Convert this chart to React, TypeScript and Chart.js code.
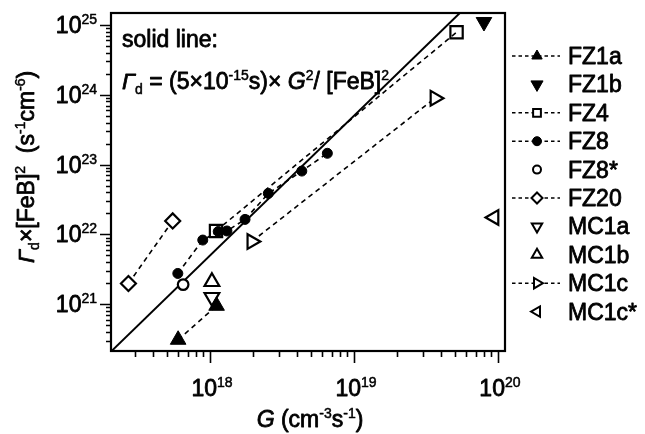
import React, { useEffect, useRef } from "react";
import { Chart, registerables } from "chart.js";

Chart.register(...registerables);

const FAMILY = '"Liberation Sans", Arial, Helvetica, sans-serif';
const BASE = 23;
const SMALL = 14;

// axis ranges (G in cm^-3 s^-1, Γd×[FeB]^2 in s^-1 cm^-6)
const gRange = [2.05e17, 1.12e20];
const rRange = [2.14e20, 1.48e25];
const xDecades = [17, 18, 19, 20];
const yDecades = [20, 21, 22, 23, 24, 25];

// solid line: Γd = (5×10^-15 s) × G^2 / [FeB]^2
const lineCoef = 5e-15;
const lineG = [1e17, 2e20];

// series values
const fz1aG = [6.0e17, 1.11e18];
const fz1aR = [3.1e20, 9.5e20];
const fz1bG = [8.0e19];
const fz1bR = [1.1e25];
const fz4G = [1.1e18, 5.16e19];
const fz4R = [1.12e22, 7.85e24];
const fz8G = [5.97e17, 8.9e17, 1.14e18, 1.31e18, 1.75e18, 2.54e18, 4.34e18, 6.53e18];
const fz8R = [2.76e21, 8.3e21, 1.1e22, 1.12e22, 1.64e22, 3.86e22, 8.07e22, 1.45e23];
const fz8sG = [6.5e17];
const fz8sR = [1.91e21];
const fz20G = [2.71e17, 5.5e17];
const fz20R = [1.98e21, 1.56e22];
const mc1aG = [1.03e18];
const mc1aR = [1.26e21];
const mc1bG = [1.03e18];
const mc1bR = [2.1e21];
const mc1cG = [1.95e18, 3.65e19];
const mc1cR = [7.9e21, 8.9e23];
const mc1csG = [9.4e19];
const mc1csR = [1.75e22];

const series = [
  { label: "FZ1a", g: fz1aG, r: fz1aR },
  { label: "FZ1b", g: fz1bG, r: fz1bR },
  { label: "FZ4", g: fz4G, r: fz4R },
  { label: "FZ8", g: fz8G, r: fz8R },
  { label: "FZ8*", g: fz8sG, r: fz8sR },
  { label: "FZ20", g: fz20G, r: fz20R },
  { label: "MC1a", g: mc1aG, r: mc1aR },
  { label: "MC1b", g: mc1bG, r: mc1bR },
  { label: "MC1c", g: mc1cG, r: mc1cR },
  { label: "MC1c*", g: mc1csG, r: mc1csR },
];

type Sty = { ps: string; rot: number; fill: string; line: boolean; rad: number; lr: number };
const styles: Record<string, Sty> = {
  "FZ1a": { ps: "triangle", rot: 0, fill: "#000", line: true, rad: 9, lr: 6 },
  "FZ1b": { ps: "triangle", rot: 180, fill: "#000", line: false, rad: 9, lr: 7 },
  "FZ4": { ps: "rect", rot: 0, fill: "rgba(0,0,0,0)", line: true, rad: 8.7, lr: 5.5 },
  "FZ8": { ps: "circle", rot: 0, fill: "#000", line: true, rad: 5, lr: 4.5 },
  "FZ8*": { ps: "circle", rot: 0, fill: "#fff", line: false, rad: 5.3, lr: 4 },
  "FZ20": { ps: "rectRot", rot: 0, fill: "#fff", line: true, rad: 7.5, lr: 5.5 },
  "MC1a": { ps: "triangle", rot: 180, fill: "#fff", line: false, rad: 8.5, lr: 6 },
  "MC1b": { ps: "triangle", rot: 0, fill: "#fff", line: false, rad: 8.5, lr: 6 },
  "MC1c": { ps: "triangle", rot: 90, fill: "#fff", line: true, rad: 8.5, lr: 6 },
  "MC1c*": { ps: "triangle", rot: 270, fill: "#fff", line: false, rad: 8.5, lr: 6 },
};

type Part = { t: string; it?: boolean; sup?: boolean; sub?: boolean };

function setFont(ctx: CanvasRenderingContext2D, p: Part) {
  const size = p.sup || p.sub ? SMALL : BASE;
  ctx.font = `${p.it ? "italic " : ""}${size}px ${FAMILY}`;
}
function richWidth(ctx: CanvasRenderingContext2D, parts: Part[]) {
  let w = 0;
  for (const p of parts) {
    setFont(ctx, p);
    w += ctx.measureText(p.t).width;
  }
  return w;
}
function drawRich(ctx: CanvasRenderingContext2D, parts: Part[], x: number, y: number) {
  let cx = x;
  ctx.save();
  ctx.textAlign = "left";
  ctx.textBaseline = "alphabetic";
  ctx.setLineDash([]);
  ctx.fillStyle = "#000";
  ctx.strokeStyle = "#000";
  ctx.lineJoin = "round";
  for (const p of parts) {
    setFont(ctx, p);
    const dy = p.sup ? -9 : p.sub ? 5 : 0;
    ctx.lineWidth = p.sup || p.sub ? 0.5 : 0.8;
    ctx.fillText(p.t, cx, y + dy);
    ctx.strokeText(p.t, cx, y + dy);
    cx += ctx.measureText(p.t).width;
  }
  ctx.restore();
}

function drawPoint(ctx: CanvasRenderingContext2D, ps: string, r: number, rotDeg: number, x: number, y: number) {
  let rad = (rotDeg * Math.PI) / 180;
  ctx.beginPath();
  if (ps === "circle") {
    ctx.arc(x, y, r, 0, Math.PI * 2);
  } else if (ps === "triangle") {
    ctx.moveTo(x + Math.sin(rad) * r, y - Math.cos(rad) * r);
    rad += (2 * Math.PI) / 3;
    ctx.lineTo(x + Math.sin(rad) * r, y - Math.cos(rad) * r);
    rad += (2 * Math.PI) / 3;
    ctx.lineTo(x + Math.sin(rad) * r, y - Math.cos(rad) * r);
    ctx.closePath();
  } else if (ps === "rect") {
    const s = Math.SQRT1_2 * r;
    ctx.rect(x - s, y - s, 2 * s, 2 * s);
  } else if (ps === "rectRot") {
    ctx.moveTo(x, y - r);
    ctx.lineTo(x + r, y);
    ctx.lineTo(x, y + r);
    ctx.lineTo(x - r, y);
    ctx.closePath();
  }
  ctx.fill();
  ctx.stroke();
}

const decor = {
  id: "decor",
  afterDraw(chart: any) {
    const { ctx, chartArea: a, scales } = chart;
    const xs = scales.x;
    const ys = scales.y;
    ctx.save();
    ctx.fillStyle = "#000";
    ctx.strokeStyle = "#000";
    ctx.setLineDash([]);

    // frame
    ctx.lineWidth = 2.2;
    ctx.strokeRect(a.left, a.top, a.right - a.left, a.bottom - a.top);

    // ticks
    ctx.lineWidth = 1.6;
    ctx.beginPath();
    for (const e of xDecades) {
      for (let m = 1; m <= 9; m++) {
        const v = m * Math.pow(10, e);
        if (v < xs.min || v > xs.max) continue;
        const px = Math.round(xs.getPixelForValue(v)) + 0.5;
        const len = m === 1 ? 12 : 6;
        ctx.moveTo(px, a.bottom);
        ctx.lineTo(px, a.bottom + len);
      }
    }
    for (const e of yDecades) {
      for (let m = 1; m <= 9; m++) {
        const v = m * Math.pow(10, e);
        if (v < ys.min || v > ys.max) continue;
        const py = Math.round(ys.getPixelForValue(v)) + 0.5;
        const len = m === 1 ? 11 : 5;
        ctx.moveTo(a.left, py);
        ctx.lineTo(a.left - len, py);
      }
    }
    ctx.stroke();

    // tick labels
    for (const e of xDecades) {
      const v = Math.pow(10, e);
      if (v < xs.min || v > xs.max) continue;
      const px = xs.getPixelForValue(v);
      const parts: Part[] = [{ t: "10" }, { t: String(e), sup: true }];
      const w = richWidth(ctx, parts);
      drawRich(ctx, parts, px - w / 2 + 2, a.bottom + 45);
    }
    for (const e of yDecades) {
      const v = Math.pow(10, e);
      if (v < ys.min || v > ys.max) continue;
      const py = ys.getPixelForValue(v);
      const parts: Part[] = [{ t: "10" }, { t: String(e), sup: true }];
      const w = richWidth(ctx, parts);
      drawRich(ctx, parts, a.left - 14 - w, py + 8);
    }

    // axis titles
    const xt: Part[] = [
      { t: "G", it: true }, { t: " (cm" }, { t: "-3", sup: true }, { t: "s" }, { t: "-1", sup: true }, { t: ")" },
    ];
    const xw = richWidth(ctx, xt);
    drawRich(ctx, xt, (a.left + a.right) / 2 + 2 - xw / 2, a.bottom + 76);

    const yt: Part[] = [
      { t: "Γ", it: true }, { t: "d", sub: true }, { t: "×[FeB]" }, { t: "2", sup: true },
      { t: "  (s" }, { t: "-1", sup: true }, { t: "cm" }, { t: "-6", sup: true }, { t: ")" },
    ];
    ctx.save();
    ctx.translate(a.left - 77, 263);
    ctx.rotate(-Math.PI / 2);
    drawRich(ctx, yt, 0, 0);
    ctx.restore();

    // annotation
    drawRich(ctx, [{ t: "solid line:" }], a.left + 11, a.top + 34);
    drawRich(ctx, [
      { t: "Γ", it: true }, { t: "d", sub: true }, { t: " = (5×10" }, { t: "-15", sup: true },
      { t: "s)× " }, { t: "G", it: true }, { t: "2", sup: true }, { t: "/ [FeB]" }, { t: "2", sup: true },
    ], a.left + 11, a.top + 76);

    // legend
    const lx0 = a.right + 7;
    const lxm = a.right + 32;
    const lx1 = a.right + 55;
    const tx = a.right + 63;
    let row = 0;
    for (const ds of chart.data.datasets) {
      if (ds.isFit) continue;
      const st = styles[ds.label];
      const y = a.top + 43 + row * 28.4;
      if (st.line) {
        ctx.save();
        ctx.lineWidth = 1.4;
        ctx.setLineDash([3.5, 3]);
        ctx.beginPath();
        ctx.moveTo(lx0, y);
        ctx.lineTo(lx1, y);
        ctx.stroke();
        ctx.restore();
      }
      ctx.save();
      ctx.fillStyle = st.fill === "#000" ? "#000" : "#fff";
      ctx.strokeStyle = "#000";
      ctx.lineWidth = st.fill === "#000" ? 1 : 2;
      drawPoint(ctx, st.ps, st.lr, st.rot, lxm, y);
      ctx.restore();
      drawRich(ctx, [{ t: ds.label }], tx, y + 8);
      row++;
    }
    ctx.restore();
  },
};

export default function App() {
  const ref = useRef<HTMLCanvasElement | null>(null);

  useEffect(() => {
    if (!ref.current) return;
    const datasets: any[] = series.map((s) => {
      const st = styles[s.label];
      return {
        label: s.label,
        data: s.g.map((g, i) => ({ x: g, y: s.r[i] })),
        showLine: st.line,
        borderColor: "#000",
        borderWidth: 1.6,
        borderDash: [5, 4],
        pointStyle: st.ps,
        pointRotation: st.rot,
        pointRadius: st.rad,
        pointBackgroundColor: st.fill,
        pointBorderColor: "#000",
        pointBorderWidth: st.fill === "#000" ? 1 : 2.2,
        clip: false,
      };
    });
    datasets.push({
      label: "fit",
      isFit: true,
      data: lineG.map((g) => ({ x: g, y: lineCoef * g * g })),
      showLine: true,
      borderColor: "#000",
      borderWidth: 2,
      pointRadius: 0,
    });

    const chart = new Chart(ref.current, {
      type: "scatter",
      data: { datasets },
      options: {
        animation: false,
        responsive: false,
        devicePixelRatio: 1,
        layout: { padding: { left: 111, top: 13, right: 140, bottom: 83 } },
        plugins: { legend: { display: false }, tooltip: { enabled: false } },
        scales: {
          x: { type: "logarithmic", min: gRange[0], max: gRange[1], display: false },
          y: { type: "logarithmic", min: rRange[0], max: rRange[1], display: false },
        },
      },
      plugins: [decor],
    } as any);
    return () => chart.destroy();
  }, []);

  return (
    <div style={{ position: "fixed", left: 0, top: 0, width: 645, height: 434, background: "#fff" }}>
      <canvas ref={ref} width={645} height={434} style={{ width: 645, height: 434, display: "block" }} />
    </div>
  );
}
